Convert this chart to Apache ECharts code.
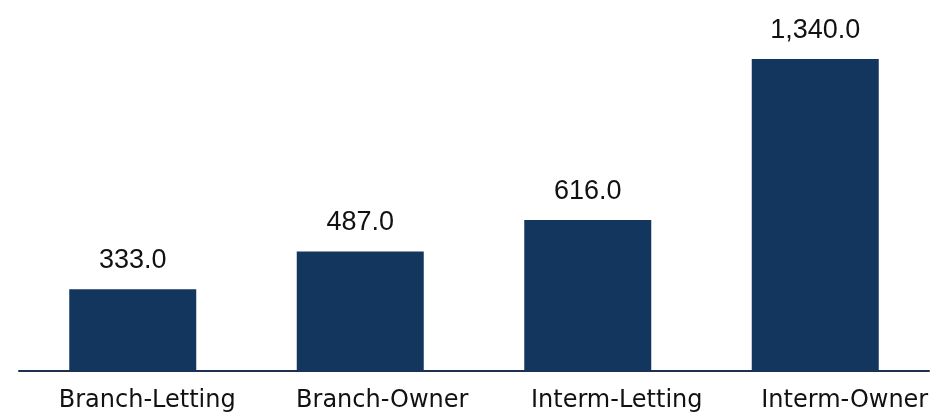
<!DOCTYPE html>
<html>
<head>
<meta charset="utf-8">
<script src="https://cdn.jsdelivr.net/npm/echarts@6/dist/echarts.min.js"></script>
<style>
html,body{margin:0;padding:0;background:#fff;}
#chart{width:945px;height:417px;}
</style>
</head>
<body>
<div id="chart"></div>
<script>
const categories = ['Branch-Letting', 'Branch-Owner', 'Interm-Letting', 'Interm-Owner'];
const values = [333.0, 487.0, 616.0, 1340.0];

// small per-label horizontal nudges (px) to match the reference label placement
const labelShift = [29, 44, 58, 59];
const rich = {};
labelShift.forEach((s, i) => {
  rich['c' + i] = {
    color: '#111111',
    fontFamily: 'DejaVu Sans',
    fontSize: 24,
    padding: [0, 0, 0, s]
  };
});

const chart = echarts.init(document.getElementById('chart'), null, {renderer: 'canvas'});
chart.setOption({
  animation: false,
  backgroundColor: '#ffffff',
  grid: {left: 19, right: 16, top: 59, bottom: 46.5, containLabel: false},
  xAxis: {
    type: 'category',
    data: categories,
    axisLine: {show: true, lineStyle: {color: '#1c3150', width: 2}},
    axisTick: {show: false},
    axisLabel: {
      interval: 0,
      hideOverlap: false,
      color: '#111111',
      fontFamily: 'DejaVu Sans',
      fontSize: 24,
      margin: 18,
      formatter: (v, i) => '{c' + i + '|' + v + '}',
      rich: rich
    }
  },
  yAxis: {
    type: 'value',
    min: 0,
    max: 1275,
    show: false,
    splitLine: {show: false}
  },
  series: [{
    type: 'bar',
    data: values,
    barWidth: 127,
    clip: true,
    itemStyle: {color: '#13365f'},
    label: {
      show: true,
      position: 'top',
      distance: 15,
      color: '#111111',
      fontFamily: 'Liberation Sans',
      fontSize: 27,
      formatter: p => p.value.toLocaleString('en-US', {minimumFractionDigits: 1, maximumFractionDigits: 1})
    }
  }]
});
</script>
</body>
</html>
